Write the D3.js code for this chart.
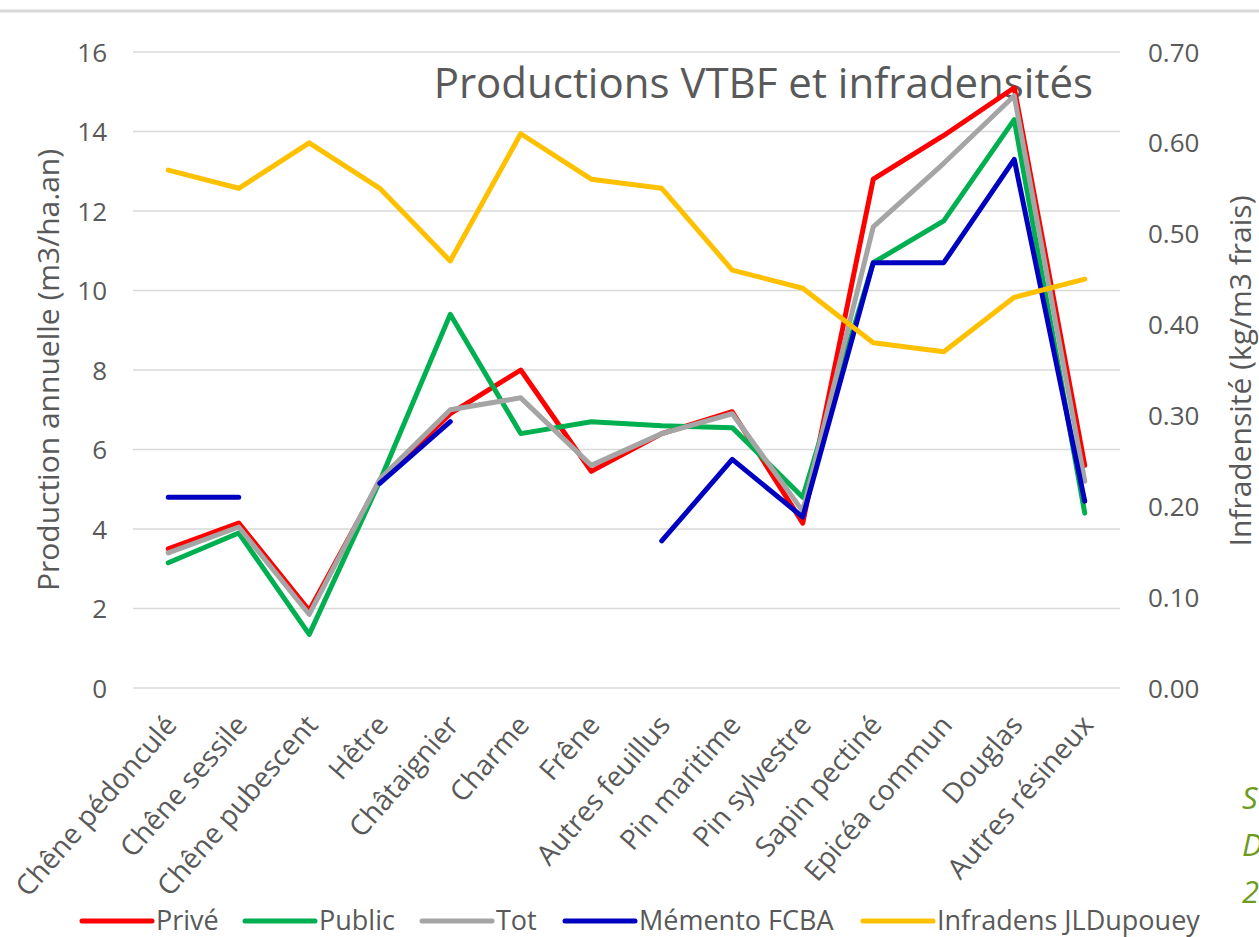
<!DOCTYPE html>
<meta charset="UTF-8">
<head>
<title>Productions VTBF et infradensités</title>
<style>
  body { margin: 0; background: #fff; }
  text { font-family: "Open Sans", sans-serif; fill: #595959; }
</style>
</head>
<body>
<svg width="1259" height="937"></svg>
<script src="https://d3js.org/d3.v7.min.js"></script>
<script>

// Categories (essences)
var essences = ["Chêne pédonculé", "Chêne sessile", "Chêne pubescent", "Hêtre", "Châtaignier",
    "Charme", "Frêne", "Autres feuillus", "Pin maritime", "Pin sylvestre", "Sapin pectiné",
    "Epicéa commun", "Douglas", "Autres résineux"];

// Production annuelle (m3/ha.an)
var prive   = [3.5, 4.15, 1.95, 5.2, 6.9, 8.0, 5.45, 6.4, 6.95, 4.15, 12.8, 13.9, 15.1, 5.6];
var public_ = [3.15, 3.9, 1.35, 5.2, 9.4, 6.4, 6.7, 6.6, 6.55, 4.8, 10.7, 11.75, 14.3, 4.4];
var tot     = [3.4, 4.05, 1.85, 5.25, 7.0, 7.3, 5.6, 6.4, 6.9, 4.45, 11.6, 13.2, 14.9, 5.2];
var memento = [4.8, 4.8, null, 5.15, 6.7, null, null, 3.7, 5.75, 4.3, 10.7, 10.7, 13.3, 4.7];

// Infradensité (kg/m3 frais), axe secondaire
var infradens = [0.57, 0.55, 0.60, 0.55, 0.47, 0.61, 0.56, 0.55, 0.46, 0.44, 0.38, 0.37, 0.43, 0.45];

var leftTicks = [0, 2, 4, 6, 8, 10, 12, 14, 16];
var rightTicks = [0, 0.1, 0.2, 0.3, 0.4, 0.5, 0.6, 0.7];

var series = [
    {name: "Privé", values: prive, color: "#FF0000", axis: "left"},
    {name: "Public", values: public_, color: "#00B050", axis: "left"},
    {name: "Tot", values: tot, color: "#A5A5A5", axis: "left"},
    {name: "Mémento FCBA", values: memento, color: "#0000C0", axis: "left"},
    {name: "Infradens JLDupouey", values: infradens, color: "#FFC000", axis: "right"}
];

var svg = d3.select("svg");
var margin = {left: 133, right: 139, top: 52, bottom: 249};
var W = 1259, H = 937;

// top frame line
svg.append("line")
    .attr("x1", 0).attr("x2", W).attr("y1", 11).attr("y2", 11)
    .attr("stroke", "#d9d9d9").attr("stroke-width", 3);

var x = d3.scaleBand().domain(essences).range([margin.left, W - margin.right]);
var yL = d3.scaleLinear().domain([0, 16]).range([H - margin.bottom, margin.top]);
var yR = d3.scaleLinear().domain([0, 0.7]).range([H - margin.bottom, margin.top]);

// grid
svg.append("g").selectAll("line").data(leftTicks).enter().append("line")
    .attr("x1", margin.left).attr("x2", W - margin.right)
    .attr("y1", function(d) { return yL(d); }).attr("y2", function(d) { return yL(d); })
    .attr("stroke", "#d9d9d9").attr("stroke-width", 1.5);

// left axis
var axL = svg.append("g")
    .attr("transform", "translate(" + (margin.left - 26) + ",0)")
    .call(d3.axisLeft(yL).tickValues(leftTicks).tickSize(0).tickPadding(0));
axL.select(".domain").remove();
axL.selectAll("text").attr("font-size", 26).attr("dy", "0.35em").style("font-family", "Open Sans");

// right axis
var axR = svg.append("g")
    .attr("transform", "translate(" + (W - margin.right + 28) + ",0)")
    .call(d3.axisRight(yR).tickValues(rightTicks).tickFormat(d3.format(".2f")).tickSize(0).tickPadding(0));
axR.select(".domain").remove();
axR.selectAll("text").attr("font-size", 26).attr("dy", "0.35em").style("font-family", "Open Sans");

// x labels
svg.append("g").selectAll("text").data(essences).enter().append("text")
    .attr("transform", function(d) {
        return "translate(" + (x(d) + x.bandwidth() / 2 + 10) + "," + (H - margin.bottom + 38) + ") rotate(-49)";
    })
    .attr("text-anchor", "end")
    .attr("font-size", 28)
    .text(function(d) { return d; });

// axis titles
svg.append("text")
    .attr("transform", "translate(47,370) rotate(-90)")
    .attr("text-anchor", "middle").attr("dominant-baseline", "central").attr("font-size", 30)
    .text("Production annuelle (m3/ha.an)");
svg.append("text")
    .attr("transform", "translate(1239,371) rotate(-90)")
    .attr("text-anchor", "middle").attr("dominant-baseline", "central").attr("font-size", 30)
    .text("Infradensité (kg/m3 frais)");

// title
svg.append("text")
    .attr("x", 1093).attr("y", 98)
    .attr("text-anchor", "end").attr("font-size", 42)
    .text("Productions VTBF et infradensités");

// lines
series.forEach(function(s) {
    var y = s.axis === "left" ? yL : yR;
    var line = d3.line()
        .defined(function(d) { return d != null; })
        .x(function(d, i) { return x(essences[i]) + x.bandwidth() / 2; })
        .y(function(d) { return y(d); });
    svg.append("path")
        .datum(s.values)
        .attr("d", line)
        .attr("fill", "none")
        .attr("stroke", s.color)
        .attr("stroke-width", 5)
        .attr("stroke-linejoin", "round")
        .attr("stroke-linecap", "round");
});

// legend
var legendX = [82, 245, 422, 565, 863];
var lg = svg.append("g").selectAll("g").data(series).enter().append("g")
    .attr("transform", function(d, i) { return "translate(" + legendX[i] + ",921)"; });
lg.append("line").attr("x1", 0).attr("x2", 70).attr("y1", 0).attr("y2", 0)
    .attr("stroke", function(d) { return d.color; }).attr("stroke-width", 5)
    .attr("stroke-linecap", "round");
lg.append("text").attr("x", 74).attr("dy", "0.35em").attr("font-size", 27)
    .text(function(d) { return d.name; });

// source note (cut at right edge)
var note = ["S", "D", "2"];
svg.append("g").selectAll("text").data(note).enter().append("text")
    .attr("x", 1242).attr("y", function(d, i) { return 809 + i * 47; })
    .attr("font-size", 31).attr("font-style", "italic")
    .style("fill", "#6E9B1E")
    .text(function(d) { return d; });
</script>
</body>
